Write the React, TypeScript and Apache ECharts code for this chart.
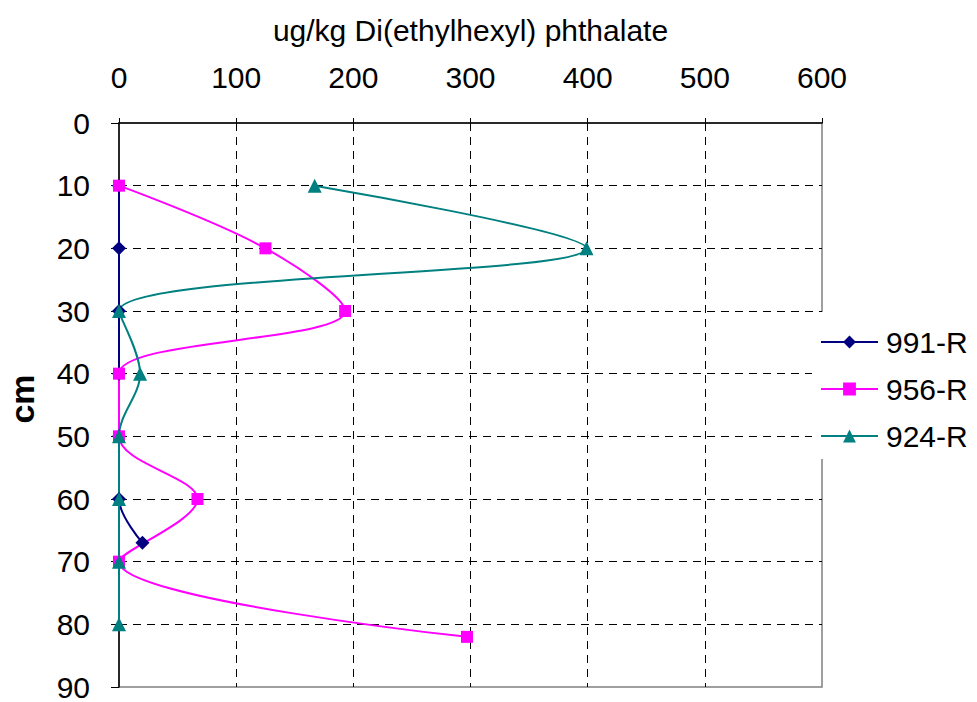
import React, { useEffect, useRef } from "react";
import * as echarts from "echarts";

// Depth profiles: [concentration ug/kg, depth cm]
const series991R: [number, number][] = [[0, 10], [0, 20], [0, 30], [0, 40], [0, 50], [0, 60], [20, 67]];
const series956R: [number, number][] = [[0, 10], [125, 20], [193, 30], [0, 40], [0, 50], [67, 60], [0, 70], [297, 82]];
const series924R: [number, number][] = [[167, 10], [399, 20], [0, 30], [18, 40], [0, 50], [0, 60], [0, 70], [0, 80]];

const seriesNames = ["991-R", "956-R", "924-R"];
const xTitle = "ug/kg Di(ethylhexyl) phthalate";
const yTitle = "cm";

const FONT = "Liberation Sans, Arial, sans-serif";
const FS = 30;

export default function App() {
  const ref = useRef<HTMLDivElement>(null);

  useEffect(() => {
    if (!ref.current) return;
    const chart = echarts.init(ref.current, undefined, { renderer: "svg" });

    const lineSeries = (name: string, data: [number, number][], color: string, symbol: string, size: number) => ({
      name,
      type: "line",
      data,
      smooth: 0.35,
      clip: false,
      symbol,
      symbolSize: size,
      showAllSymbol: true,
      lineStyle: { color, width: 2 },
      itemStyle: { color, borderWidth: 0 },
      emphasis: { disabled: true },
    });

    chart.setOption({
      animation: false,
      backgroundColor: "#ffffff",
      textStyle: { fontFamily: FONT },
      grid: {
        left: 119,
        top: 123,
        width: 703,
        height: 565,
        show: true,
        borderColor: "#808080",
        borderWidth: 1.5,
        backgroundColor: "transparent",
      },
      legend: {
        data: seriesNames,
        orient: "vertical",
        left: 812,
        top: 312,
        padding: [15, 6, 8, 8],
        itemGap: 17,
        itemWidth: 57,
        itemHeight: 16,
        backgroundColor: "#ffffff",
        textStyle: { fontSize: FS, color: "#000", fontFamily: FONT, padding: [0, 0, 0, 3] },
      },
      xAxis: {
        type: "value",
        position: "top",
        min: 0,
        max: 600,
        interval: 100,
        name: xTitle,
        nameLocation: "middle",
        nameGap: 78,
        nameTextStyle: { fontSize: FS, color: "#000", fontFamily: FONT },
        axisLine: { show: true, onZero: false, lineStyle: { color: "#000", width: 1.5 } },
        axisTick: { show: true, inside: false, length: 5, lineStyle: { color: "#000" } },
        axisLabel: { fontSize: FS, color: "#000", margin: 31, fontFamily: FONT },
        splitLine: {
          show: true,
          showMinLine: false,
          showMaxLine: false,
          lineStyle: { color: "#000", type: [8, 6], width: 1 },
        },
      },
      yAxis: {
        type: "value",
        inverse: true,
        min: 0,
        max: 90,
        interval: 10,
        axisLine: { show: true, onZero: false, lineStyle: { color: "#000", width: 1.5 } },
        axisTick: { show: true, length: 8, lineStyle: { color: "#000" } },
        axisLabel: { fontSize: FS, color: "#000", margin: 29, fontFamily: FONT },
        splitLine: {
          show: true,
          showMinLine: false,
          showMaxLine: false,
          lineStyle: { color: "#000", type: [8, 6], width: 1 },
        },
      },
      graphic: [
        {
          type: "text",
          x: 22,
          y: 399,
          rotation: Math.PI / 2,
          style: {
            text: yTitle,
            fontSize: 34,
            fontWeight: "bold",
            fontFamily: FONT,
            fill: "#000",
            align: "center",
            verticalAlign: "middle",
          },
        },
      ],
      series: [
        lineSeries(seriesNames[0], series991R, "#000080", "diamond", 14),
        lineSeries(seriesNames[1], series956R, "#ff00ff", "rect", 12),
        lineSeries(seriesNames[2], series924R, "#008080", "triangle", 14),
      ],
    });

    return () => chart.dispose();
  }, []);

  return (
    <div
      ref={ref}
      style={{ position: "fixed", left: 0, top: 0, width: 977, height: 702 }}
    />
  );
}
